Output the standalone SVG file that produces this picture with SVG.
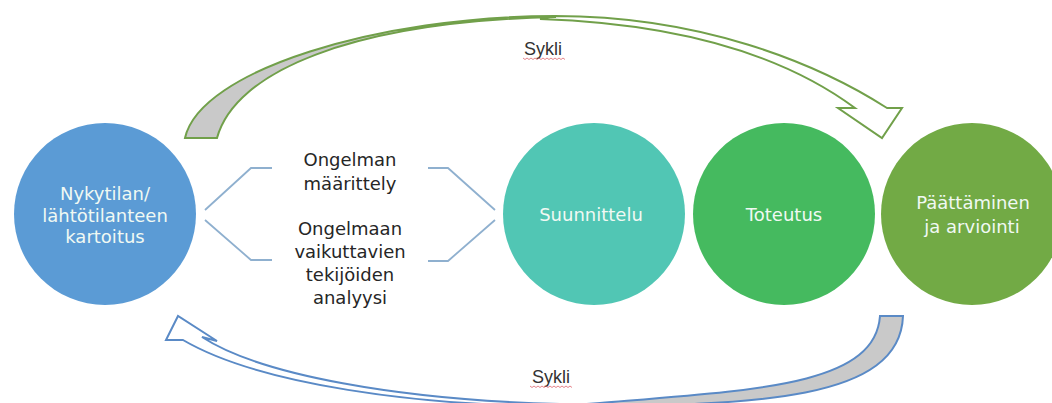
<svg xmlns="http://www.w3.org/2000/svg" width="1052" height="403" viewBox="0 0 1052 403">
<defs>
<style>
.lbl{font-family:"DejaVu Sans","Verdana",sans-serif;font-size:18px;fill:#f0f9f3;text-anchor:middle}
.mid{font-family:"DejaVu Sans","Verdana",sans-serif;font-size:18px;fill:#262626;text-anchor:middle}
.syk{font-family:"Liberation Sans",Arial,sans-serif;font-size:18px;fill:#333;text-anchor:middle}
.brk{fill:none;stroke:#8fb0cf;stroke-width:1.8}
.garr{stroke:#71a04a;stroke-width:2;stroke-linejoin:miter}
.barr{stroke:#5a8ac6;stroke-width:2;stroke-linejoin:miter}
.sq{fill:none;stroke:#d9505a;stroke-width:1;opacity:0.7}
</style>
<path id="squig" d="M0,0 l2,1.5 l2,-1.5 l2,1.5 l2,-1.5 l2,1.5 l2,-1.5 l2,1.5 l2,-1.5 l2,1.5 l2,-1.5 l2,1.5 l2,-1.5 l2,1.5 l2,-1.5 l2,1.5 l2,-1.5 l2,1.5 l2,-1.5 l2,1.5 l2,-1.5 l2,1.5"/>
</defs>
<rect width="1052" height="403" fill="#ffffff"/>

<g id="connectors">
  <!-- top cycle arrow (green) -->
  <path class="garr" fill="#ffffff" d="M555,16 C700,16 815,62 887,108 L902,108 L882,138 L838,108 L855,108 C790,60 690,24 540,19 Z"/>
  <path class="garr" fill="#c9c9c9" d="M185,138 C200,70 380,16 555,16 L555,17 C350,22 235,72 217,138 Z"/>
  <!-- bottom cycle arrow (blue) -->
  <path class="barr" fill="#ffffff" d="M560,406 C420,406 260,385 183,340 L166,340 L178,316 L217,341 L202,337 C260,375 400,400 560,404 Z"/>
  <path class="barr" fill="#c9c9c9" d="M880,316 L903,316 C900,400 760,406 560,406 L600,403 C760,390 875,385 880,316 Z"/>
  <!-- brackets -->
  <path class="brk" d="M272,168 L251,168 L205,210"/>
  <path class="brk" d="M205,220 L251,260 L272,260"/>
  <path class="brk" d="M428,168 L448,168 L495,210"/>
  <path class="brk" d="M495,220 L448,261 L428,261"/>
  <!-- cycle labels -->
  <g id="sykli-top">
    <text class="syk" x="543" y="55">Sykli</text>
    <use href="#squig" class="sq" x="523" y="58"/>
  </g>
  <g id="sykli-bottom">
    <text class="syk" x="551" y="383">Sykli</text>
    <use href="#squig" class="sq" x="530" y="386"/>
  </g>
</g>

<g id="node-nykytila">
  <circle cx="105" cy="214" r="91" fill="#5b9bd5"/>
  <text class="lbl" x="105" y="200">Nykytilan/</text>
  <text class="lbl" x="105" y="221.5">lähtötilanteen</text>
  <text class="lbl" x="105" y="243">kartoitus</text>
</g>

<g id="node-ongelma">
  <text class="mid" x="350" y="166">Ongelman</text>
  <text class="mid" x="350" y="189.5">määrittely</text>
  <text class="mid" x="350" y="235">Ongelmaan</text>
  <text class="mid" x="350" y="258">vaikuttavien</text>
  <text class="mid" x="350" y="281">tekijöiden</text>
  <text class="mid" x="350" y="304">analyysi</text>
</g>

<g id="node-suunnittelu">
  <circle cx="594" cy="214" r="91" fill="#51c6b4"/>
  <text class="lbl" x="591" y="221">Suunnittelu</text>
</g>

<g id="node-toteutus">
  <circle cx="784" cy="214" r="91" fill="#45ba5f"/>
  <text class="lbl" x="784" y="221">Toteutus</text>
</g>

<g id="node-paattaminen">
  <circle cx="972" cy="214" r="91" fill="#72aa45"/>
  <text class="lbl" x="973" y="209">Päättäminen</text>
  <text class="lbl" x="972" y="233">ja arviointi</text>
</g>
</svg>
